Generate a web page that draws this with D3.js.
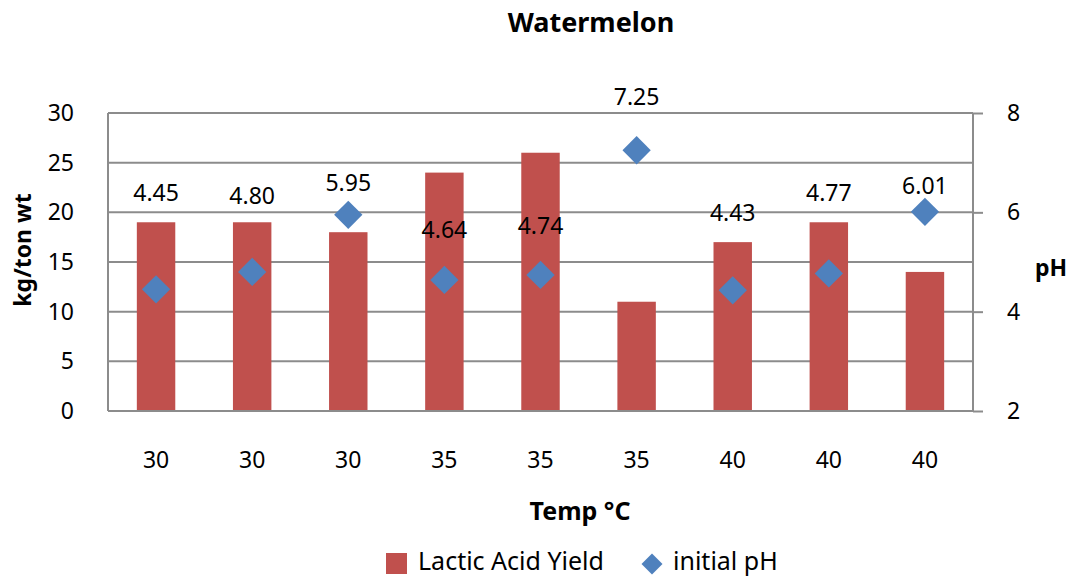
<!DOCTYPE html>
<html>
<head>
<meta charset="utf-8">
<script src="https://cdn.jsdelivr.net/npm/d3@7"></script>
<style>
  body { margin: 0; background: #fff; }
  svg text { font-family: "Noto Sans", sans-serif; fill: #000; }
</style>
</head>
<body>
<svg width="1075" height="578"></svg>
<script>
var temps = ["30", "30", "30", "35", "35", "35", "40", "40", "40"];
var yieldVals = [19, 19, 18, 24, 26, 11, 17, 19, 14];
var phVals = [4.45, 4.80, 5.95, 4.64, 4.74, 7.25, 4.43, 4.77, 6.01];
var phLabels = ["4.45", "4.80", "5.95", "4.64", "4.74", "7.25", "4.43", "4.77", "6.01"];
var leftTicks = [0, 5, 10, 15, 20, 25, 30];
var rightTicks = [2, 4, 6, 8];

// label offsets (px above the diamond), moved by hand in the original
var labelShift = [-96, -76, -32, -50, -49, -53, -77, -80, -26];

(function(){
    var svg = d3.select("svg"),
        left = 108, right = 973, top = 113, bottom = 411,
        barColor = "#C0504D",
        dotColor = "#4F81BD",
        gridColor = "#8c8c8c",
        fs = "23px";

    var x = d3.scaleBand()
        .domain(d3.range(temps.length))
        .range([left, right])
        .paddingInner(0.6)
        .paddingOuter(0.3);

    var yL = d3.scaleLinear().domain([0, 30]).range([bottom, top]);
    var yR = d3.scaleLinear().domain([2, 8]).range([bottom, top]);

    // gridlines
    svg.append("g").selectAll("line")
        .data(leftTicks)
        .enter().append("line")
        .attr("x1", left).attr("x2", right)
        .attr("y1", function(d){ return yL(d); })
        .attr("y2", function(d){ return yL(d); })
        .attr("stroke", gridColor)
        .attr("stroke-width", 2);

    svg.append("line")
        .attr("x1", left).attr("x2", left)
        .attr("y1", top).attr("y2", bottom)
        .attr("stroke", gridColor).attr("stroke-width", 2);

    // bars
    svg.append("g").selectAll("rect")
        .data(yieldVals)
        .enter().append("rect")
        .attr("x", function(d, i){ return x(i); })
        .attr("width", x.bandwidth())
        .attr("y", function(d){ return yL(d); })
        .attr("height", function(d){ return yL(0) - yL(d); })
        .attr("fill", barColor);

    // left axis
    var axL = svg.append("g")
        .attr("transform", "translate(" + left + ",0)")
        .call(d3.axisLeft(yL).tickValues(leftTicks).tickSize(0).tickPadding(34));
    axL.select(".domain").remove();
    axL.selectAll("text").style("font-size", fs).attr("fill", "#000");

    // right axis
    var axR = svg.append("g")
        .attr("transform", "translate(" + right + ",0)")
        .call(d3.axisRight(yR).tickValues(rightTicks).tickFormat(d3.format("d")).tickSize(10).tickPadding(24));
    axR.select(".domain").attr("stroke", gridColor).attr("stroke-width", 2)
        .attr("d", "M0," + top + "V" + bottom);
    axR.selectAll(".tick line").attr("stroke", gridColor).attr("stroke-width", 2);
    axR.selectAll("text").style("font-size", fs).attr("fill", "#000");

    // bottom axis line
    svg.append("line")
        .attr("x1", left).attr("x2", right)
        .attr("y1", bottom).attr("y2", bottom)
        .attr("stroke", gridColor).attr("stroke-width", 2);

    // x labels
    svg.append("g").selectAll("text")
        .data(temps)
        .enter().append("text")
        .attr("x", function(d, i){ return x(i) + x.bandwidth() / 2; })
        .attr("y", 468)
        .attr("text-anchor", "middle")
        .style("font-size", fs)
        .text(function(d){ return d; });

    // pH diamonds
    var diamond = d3.symbol().type(d3.symbolSquare).size(400);
    svg.append("g").selectAll("path")
        .data(phVals)
        .enter().append("path")
        .attr("d", diamond)
        .attr("transform", function(d, i){
            return "translate(" + (x(i) + x.bandwidth() / 2) + "," + yR(d) + ") rotate(45)";
        })
        .attr("fill", dotColor);

    // pH labels
    svg.append("g").selectAll("text")
        .data(phVals)
        .enter().append("text")
        .attr("x", function(d, i){ return x(i) + x.bandwidth() / 2; })
        .attr("y", function(d, i){ return yR(d) + labelShift[i] + 8; })
        .attr("text-anchor", "middle")
        .style("font-size", fs)
        .text(function(d, i){ return phLabels[i]; });

    // titles
    svg.append("text")
        .attr("x", 591).attr("y", 32)
        .attr("text-anchor", "middle")
        .style("font-size", "27px").style("font-weight", "bold")
        .text("Watermelon");

    svg.append("text")
        .attr("transform", "translate(31,250) rotate(-90)")
        .attr("text-anchor", "middle")
        .style("font-size", "23px").style("font-weight", "bold")
        .text("kg/ton wt");

    svg.append("text")
        .attr("x", 1051).attr("y", 276)
        .attr("text-anchor", "middle")
        .style("font-size", "23px").style("font-weight", "bold")
        .text("pH");

    svg.append("text")
        .attr("x", 580).attr("y", 520)
        .attr("text-anchor", "middle")
        .style("font-size", "25px").style("font-weight", "bold")
        .text("Temp °C");

    // legend
    var lg = svg.append("g");
    lg.append("rect")
        .attr("x", 386).attr("y", 553).attr("width", 21).attr("height", 21)
        .attr("fill", barColor);
    lg.append("text")
        .attr("x", 418).attr("y", 570)
        .style("font-size", "25px")
        .text("Lactic Acid Yield");
    lg.append("path")
        .attr("d", d3.symbol().type(d3.symbolSquare).size(220))
        .attr("transform", "translate(652,564) rotate(45)")
        .attr("fill", dotColor);
    lg.append("text")
        .attr("x", 673).attr("y", 570)
        .style("font-size", "25px")
        .text("initial pH");
})();
</script>
</body>
</html>
